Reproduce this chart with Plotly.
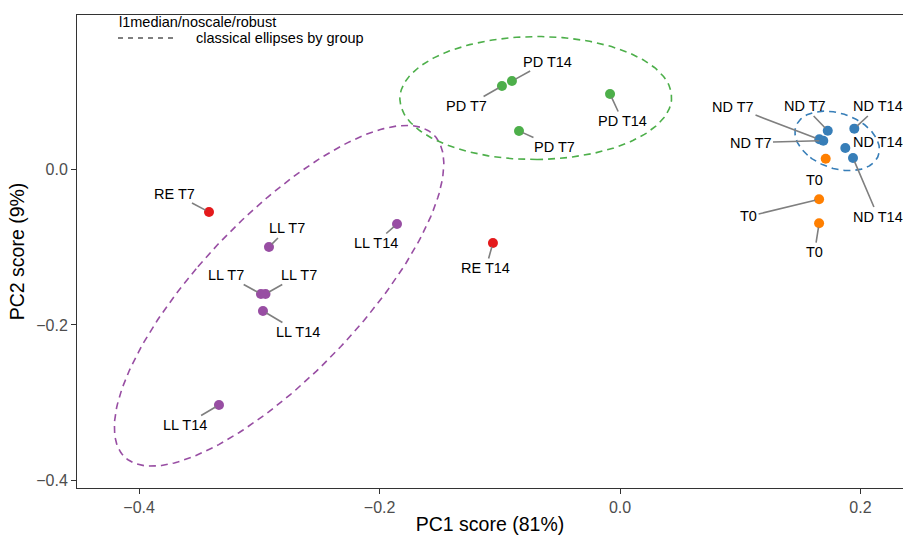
import numpy as np
import plotly.graph_objects as go

# ---------------- data ----------------
labels = ["PD T7", "PD T14", "PD T14", "PD T7",
          "RE T7", "RE T14",
          "LL T7", "LL T7", "LL T7", "LL T14", "LL T14", "LL T14",
          "ND T7", "ND T14", "ND T7", "ND T7", "ND T14", "ND T14",
          "T0", "T0", "T0"]
groups = ["PD", "PD", "PD", "PD",
          "RE", "RE",
          "LL", "LL", "LL", "LL", "LL", "LL",
          "ND", "ND", "ND", "ND", "ND", "ND",
          "T0", "T0", "T0"]
pc1 = [-0.0982, -0.0899, -0.0083, -0.0840,
       -0.3419, -0.1057,
       -0.2920, -0.2987, -0.2949, -0.2970, -0.3336, -0.1855,
       0.1728, 0.1949, 0.1691, 0.1658, 0.1874, 0.1938,
       0.1711, 0.1656, 0.1656]
pc2 = [0.1070, 0.1134, 0.0967, 0.0492,
       -0.0549, -0.0946,
       -0.0998, -0.1601, -0.1601, -0.1820, -0.3027, -0.0703,
       0.0496, 0.0522, 0.0367, 0.0385, 0.0274, 0.0145,
       0.0136, -0.0385, -0.0694]

x_ticks = [-0.4, -0.2, 0.0, 0.2]
x_ticktext = ["\u22120.4", "\u22120.2", "0.0", "0.2"]
y_ticks = [-0.4, -0.2, 0.0]
y_ticktext = ["\u22120.4", "\u22120.2", "0.0"]

ellipse_groups = ["LL", "PD", "ND"]

# ---------------- styles / placement ----------------
colors = {"RE": "#E41A1C", "ND": "#377EB8", "PD": "#4DAF4A",
          "LL": "#984EA3", "T0": "#FF7F00"}
# label offsets in pixels (dx, dy downwards) and whether a segment is drawn
label_offsets = [(-35, 20, True), (35.5, -19.5, True), (12.5, 27, True), (35.5, 16, True),
                 (-35, -18.5, True), (-7, 25, True),
                 (18.5, -18.5, True), (-34.5, -19, True), (33.5, -19, True),
                 (35.5, 21, True), (-34, 20, True), (-21.5, 19, True),
                 (-23.2, -24.2, True), (23.7, -22.2, True), (-72.8, 1.8, True),
                 (-86.3, -32.8, True), (32.7, -5.5, False), (25, 58.5, True),
                 (-11.2, 21.3, False), (-70.5, 17.2, True), (-4.5, 28.7, True)]

FONT = "Liberation Sans, Arial, Helvetica, sans-serif"
W, H = 903, 535
ML, MR, MT, MB = 77, 0, 15, 47
PW, PH = W - ML - MR, H - MT - MB

pc1 = np.array(pc1)
pc2 = np.array(pc2)
groups_arr = np.array(groups)

fig = go.Figure()

# classical ellipses (97.5% normal contour from group covariance)
c = np.sqrt(-2 * np.log(0.025))
t = np.linspace(0, 2 * np.pi, 241)
for g in ellipse_groups:
    m = groups_arr == g
    xs, ys = pc1[m], pc2[m]
    S = np.cov(np.vstack([xs, ys]))
    vals, vecs = np.linalg.eigh(S)
    circ = np.vstack([np.cos(t), np.sin(t)])
    pts = vecs @ np.diag(np.sqrt(vals)) @ circ * c
    fig.add_trace(go.Scatter(
        x=xs.mean() + pts[0], y=ys.mean() + pts[1], mode="lines",
        line=dict(color=colors[g], width=1.6, dash="7px,5px"),
        showlegend=False, hoverinfo="skip"))

# points
for g in ["PD", "RE", "LL", "ND", "T0"]:
    m = groups_arr == g
    fig.add_trace(go.Scatter(
        x=pc1[m], y=pc2[m], mode="markers",
        marker=dict(color=colors[g], size=10, line=dict(width=0)),
        text=[l for l, gg in zip(labels, groups) if gg == g],
        showlegend=False, name=g))

# labels with segments
annotations = []
for xv, yv, lab, (dx, dy, seg) in zip(pc1, pc2, labels, label_offsets):
    annotations.append(dict(
        x=xv, y=yv, xref="x", yref="y", text=lab, showarrow=True,
        ax=dx, ay=dy, arrowhead=0, arrowwidth=1.6, standoff=4,
        arrowcolor="#7F7F7F" if seg else "rgba(0,0,0,0)",
        font=dict(family=FONT, size=14.5, color="black")))

# manual legend
def px_to_paper_x(px):
    return (px - ML) / PW

def px_to_paper_y(py):
    return (MT + PH - py) / PH

annotations.append(dict(
    x=px_to_paper_x(117), y=px_to_paper_y(22), xref="paper", yref="paper",
    text="l1median/noscale/robust", showarrow=False, xanchor="left", yanchor="middle",
    font=dict(family=FONT, size=14.5, color="black")))
annotations.append(dict(
    x=px_to_paper_x(194), y=px_to_paper_y(38), xref="paper", yref="paper",
    text="classical ellipses by group", showarrow=False, xanchor="left", yanchor="middle",
    font=dict(family=FONT, size=14.5, color="black")))

shapes = [dict(type="line", xref="paper", yref="paper",
               x0=px_to_paper_x(118), x1=px_to_paper_x(178),
               y0=px_to_paper_y(38), y1=px_to_paper_y(38),
               line=dict(color="black", width=1.2, dash="5px,5px"))]

fig.update_layout(
    width=W, height=H,
    margin=dict(l=ML, r=MR, t=MT, b=MB, pad=0),
    paper_bgcolor="white", plot_bgcolor="white",
    font=dict(family=FONT, color="black"),
    annotations=annotations, shapes=shapes,
    xaxis=dict(range=[-0.4517, 0.2354], tickvals=x_ticks, ticktext=x_ticktext,
               ticks="outside", ticklen=5, tickwidth=1, tickcolor="#333333",
               showline=True, linecolor="#333333", linewidth=1, mirror=True,
               showgrid=False, zeroline=False,
               tickfont=dict(family=FONT, size=16, color="#4D4D4D"),
               title=dict(text="PC1 score (81%)", standoff=5,
                          font=dict(family=FONT, size=19.5, color="black"))),
    yaxis=dict(range=[-0.4094, 0.1982], tickvals=y_ticks, ticktext=y_ticktext,
               ticks="outside", ticklen=5, tickwidth=1, tickcolor="#333333",
               showline=True, linecolor="#333333", linewidth=1,
               showgrid=False, zeroline=False,
               tickfont=dict(family=FONT, size=16, color="#4D4D4D"),
               title=dict(text="PC2 score (9%)", standoff=6,
                          font=dict(family=FONT, size=19.5, color="black"))),
)

fig.write_html("out.html")
